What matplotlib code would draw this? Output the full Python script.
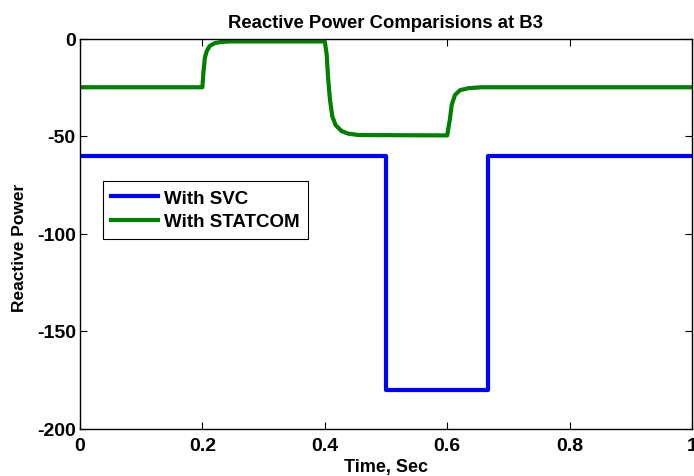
import matplotlib
matplotlib.use("Agg")
import matplotlib.pyplot as plt

# Data
svc_t = [0.0, 0.5, 0.5, 0.667, 0.667, 1.0]
svc_v = [-60, -60, -180, -180, -60, -60]

statcom_t = [0.0, 0.2, 0.2015, 0.204, 0.207, 0.212, 0.22, 0.23, 0.245,
             0.4, 0.403, 0.4057, 0.4085, 0.4123, 0.4178, 0.4276, 0.4384, 0.455,
             0.6, 0.6046, 0.6074, 0.6127, 0.6209, 0.6345, 0.656, 1.0]
statcom_v = [-25, -25, -18, -10, -6.5, -3.8, -2.4, -1.8, -1.5,
             -1.5, -8, -21.5, -31.5, -40, -44.5, -47.5, -48.8, -49.5,
             -49.7, -41, -34, -29, -26.5, -25.5, -25, -25]

xticks = [0, 0.2, 0.4, 0.6, 0.8, 1]
xticklabels = ["0", "0.2", "0.4", "0.6", "0.8", "1"]
yticks = [0, -50, -100, -150, -200]
yticklabels = ["0", "-50", "-100", "-150", "-200"]

title = "Reactive Power Comparisions at B3"
xlabel = "Time, Sec"
ylabel = "Reactive Power"
labels = ["With SVC", "With STATCOM"]

plt.rcParams['font.family'] = ['Liberation Sans', 'DejaVu Sans']
plt.rcParams['font.weight'] = 'bold'

fig = plt.figure(figsize=(6.94, 4.77), dpi=100)
ax = fig.add_axes([80/694, 47.5/477, 612/694, 390/477])

ax.plot(svc_t, svc_v, color='#0000FF', lw=3, label=labels[0])
ax.plot(statcom_t, statcom_v, color='#008000', lw=3, label=labels[1],
        solid_joinstyle='round')

ax.set_xlim(0, 1)
ax.set_ylim(-200, 0)
ax.set_xticks(xticks)
ax.set_xticklabels(xticklabels, fontsize=14, fontweight='bold')
ax.set_yticks(yticks)
ax.set_yticklabels(yticklabels, fontsize=14, fontweight='bold')
ax.tick_params(direction='in', top=True, right=True, length=5, width=0.8)
ax.tick_params(axis='x', pad=6)
ax.tick_params(axis='y', pad=3)

ax.set_title(title, fontsize=13.3, fontweight='bold', pad=8)
ax.set_xlabel(xlabel, fontsize=13, fontweight='bold', labelpad=3)
ax.set_ylabel(ylabel, fontsize=12.5, fontweight='bold')
ax.yaxis.set_label_coords((27 - 80) / 612, 0.466)

for s in ax.spines.values():
    s.set_linewidth(1.0)
    s.set_color('black')

leg = ax.legend(loc='upper left', bbox_to_anchor=((103-80)/612, (429.5-182)/390),
                borderaxespad=0, fancybox=False, edgecolor='black', framealpha=1,
                prop={'size': 13.5, 'weight': 'bold'}, handlelength=2.5,
                handletextpad=0.3, labelspacing=0.35, borderpad=0.45)
leg.get_frame().set_linewidth(0.8)

fig.savefig("out.png", dpi=100)
